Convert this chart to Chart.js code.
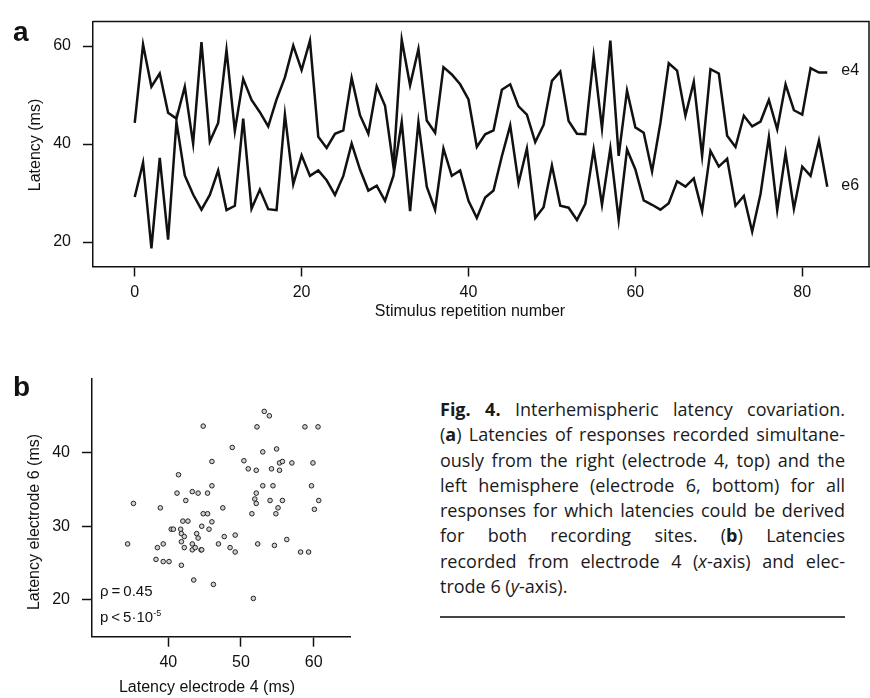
<!DOCTYPE html>
<html>
<head>
<meta charset="utf-8">
<script src="https://cdn.jsdelivr.net/npm/chart.js@4.4.0/dist/chart.umd.min.js"></script>
<style>
html,body{margin:0;padding:0;background:#fff;}
body{width:870px;height:698px;position:relative;overflow:hidden;font-family:"Liberation Sans",Arial,sans-serif;color:#111;}
canvas{position:absolute;}
#ca{left:0;top:0;}
#cb{left:0;top:340px;}
.panel{position:absolute;font-weight:bold;font-size:28px;line-height:1;left:13px;}
#caption{position:absolute;left:440px;top:397px;width:405px;font-family:"Open Sans","Noto Sans",sans-serif;font-size:18px;line-height:25.3px;color:#1a1a1a;}
#caption div{text-align:justify;text-align-last:justify;}
#caption div.last{text-align-last:left;}
#rule{position:absolute;left:440px;top:616px;width:405px;height:2px;background:#444;}
.stat{position:absolute;left:100px;font-size:15px;line-height:1;color:#111;}
.stat sup{font-size:9px;vertical-align:6px;}
</style>
</head>
<body>
<canvas id="ca" width="870" height="330"></canvas>
<canvas id="cb" width="360" height="358"></canvas>
<div class="panel" style="top:18px;">a</div>
<div class="panel" style="top:373px;">b</div>
<div class="stat" style="top:583px;">ρ&#8201;=&#8201;0.45</div>
<div class="stat" style="top:609px;">p&#8201;&lt;&#8201;5·10<sup>-5</sup></div>
<div id="caption">
<div><b>Fig. 4.</b> Interhemispheric latency covariation.</div>
<div>(<b>a</b>) Latencies of responses recorded simultane-</div>
<div>ously from the right (electrode 4, top) and the</div>
<div>left hemisphere (electrode 6, bottom) for all</div>
<div>responses for which latencies could be derived</div>
<div>for both recording sites. (<b>b</b>) Latencies</div>
<div>recorded from electrode 4 (<i>x</i>-axis) and elec-</div>
<div class="last">trode 6 (<i>y</i>-axis).</div>
</div>
<div id="rule"></div>
<script>
// ---- Panel a data ----
const repetitions = [0,1,2,3,4,5,6,7,8,9,10,11,12,13,14,15,16,17,18,19,20,21,22,23,24,25,26,27,28,29,30,31,32,33,34,35,36,37,38,39,40,41,42,43,44,45,46,47,48,49,50,51,52,53,54,55,56,57,58,59,60,61,62,63,64,65,66,67,68,69,70,71,72,73,74,75,76,77,78,79,80,81,82,83];
const latencyE4 = [44.3,60.3,51.7,54.4,46.4,45.2,51.7,40.1,60.8,40.5,44.3,59.2,42.7,53.3,49.0,46.5,43.6,49.1,53.6,60.1,55.1,61.1,41.5,39.2,42.1,42.8,53.5,45.9,42.1,51.8,47.8,35.5,61.3,52.0,59.4,44.8,42.3,55.7,54.2,52.2,49.1,39.4,42.0,42.8,51.1,52.2,47.7,46.0,40.4,43.9,52.9,54.8,44.7,42.1,42.0,57.9,43.2,61.1,37.6,50.9,43.4,42.3,34.4,44.3,56.5,55.0,45.8,52.7,37.6,55.3,54.4,41.7,39.4,45.8,43.6,44.6,49.0,43.0,52.2,46.9,46.0,55.5,54.6,54.6];
const latencyE6 = [29.2,36.2,18.7,37.2,20.5,44.5,33.6,29.7,26.6,29.6,34.6,26.5,27.4,45.2,26.8,30.7,26.7,26.5,46.0,31.8,37.7,33.5,34.6,32.6,29.6,33.5,40.1,34.8,30.5,31.5,28.4,33.5,44.5,26.3,44.5,31.3,26.6,39.1,33.5,34.6,28.4,24.9,29.1,30.5,37.5,43.8,32.0,39.1,24.9,27.1,35.6,27.4,27.0,24.5,27.8,38.9,27.6,39.1,24.5,38.9,34.8,28.5,27.6,26.6,27.9,32.4,31.3,33.0,26.3,38.6,35.4,37.0,27.4,29.4,22.1,29.8,41.4,26.5,38.1,26.8,35.4,33.5,40.7,31.3];
const seriesNames = ['e4','e6'];
const xTicksA = [0,20,40,60,80];
const yTicksA = [20,40,60];

// ---- Panel b data ----
const scatterE4 = [34.4,35.2,38.3,38.5,38.9,39.3,39.3,40.1,40.4,40.7,41.2,41.4,41.7,41.8,41.8,41.8,42.0,42.2,42.2,42.4,42.7,43.3,43.3,43.3,43.5,43.7,43.9,44.1,44.1,44.5,44.6,44.6,44.8,44.8,45.4,45.4,45.6,46.0,46.0,46.0,46.2,46.9,47.5,47.7,48.5,48.8,49.2,49.2,50.4,51.0,51.5,51.7,51.9,52.1,52.1,52.1,52.2,52.3,53.0,53.0,53.2,53.9,54.0,54.2,54.4,54.6,54.8,54.9,55.1,55.3,55.3,55.7,55.7,56.3,57.0,58.2,58.8,59.3,59.7,59.9,60.1,60.6,60.7];
const scatterE6 = [27.6,33.1,25.5,27.1,32.5,25.2,27.6,25.2,29.6,29.6,34.5,37.0,29.6,29.0,27.9,24.7,30.7,28.6,27.1,33.5,30.7,34.7,27.6,26.8,22.7,27.1,29.0,28.4,34.5,26.8,30.0,26.8,43.6,31.7,31.7,34.5,29.6,38.8,35.5,30.6,22.1,27.6,32.5,28.6,27.1,40.7,28.8,26.5,38.9,37.8,31.7,20.2,33.7,33.1,34.5,37.6,43.5,27.6,40.1,35.5,45.6,45.0,33.5,37.8,35.5,27.4,31.7,40.5,32.5,37.6,38.6,38.8,33.5,28.2,38.6,26.5,43.5,26.5,35.5,38.6,32.3,43.5,33.5];
const xTicksB = [40,50,60];
const yTicksB = [20,30,40];

const FONT = 'Liberation Sans';
const INK = '#111';

const textPlugin = {
  id: 'textLabels',
  afterDraw(chart, args, opts) {
    const ctx = chart.ctx;
    (opts.items || []).forEach(it => {
      ctx.save();
      ctx.font = it.font;
      ctx.fillStyle = INK;
      ctx.textAlign = 'center';
      ctx.textBaseline = 'middle';
      ctx.translate(it.x, it.y);
      if (it.rotate) ctx.rotate(it.rotate);
      ctx.fillText(it.text, 0, 0);
      ctx.restore();
    });
  }
};

const framePlugin = {
  id: 'frameBox',
  afterDraw(chart, args, opts) {
    if (!opts.enabled) return;
    const {ctx, chartArea: a} = chart;
    ctx.save();
    ctx.strokeStyle = INK;
    ctx.lineWidth = 1.5;
    ctx.beginPath();
    ctx.moveTo(a.left, a.top);
    ctx.lineTo(a.right, a.top);
    ctx.lineTo(a.right, a.bottom);
    ctx.stroke();
    if (opts.seriesLabels) {
      ctx.font = '16px ' + FONT;
      ctx.fillStyle = INK;
      ctx.textAlign = 'left';
      ctx.textBaseline = 'middle';
      chart.data.datasets.forEach((ds, i) => {
        const meta = chart.getDatasetMeta(i);
        const p = meta.data[meta.data.length - 1];
        ctx.fillText(ds.label, p.x + 14, p.y - 1.5);
      });
    }
    ctx.restore();
  }
};

function axisCommon(ticksArr, padding) {
  return {
    afterBuildTicks: s => { s.ticks = ticksArr.map(v => ({value: v})); },
    grid: {drawOnChartArea: false, drawTicks: true, tickLength: 10, tickColor: INK, tickWidth: 1.5},
    border: {display: true, color: INK, width: 1.5},
    ticks: {padding: padding, color: INK, font: {family: FONT, size: 16}, maxRotation: 0, autoSkip: false}
  };
}

new Chart(document.getElementById('ca'), {
  type: 'line',
  data: {
    datasets: [latencyE4, latencyE6].map((arr, k) => ({
      label: seriesNames[k],
      data: arr.map((v, i) => ({x: repetitions[i], y: v})),
      borderColor: INK,
      borderWidth: 2.5,
      pointRadius: 0,
      tension: 0,
      fill: false
    }))
  },
  options: {
    responsive: false,
    animation: false,
    layout: {padding: {left: 0, top: 9, right: 1, bottom: 0}},
    plugins: {
      legend: {display: false},
      tooltip: {enabled: false},
      frameBox: {enabled: true, seriesLabels: true},
      textLabels: {items: [
        {text: 'Latency (ms)', x: 36, y: 145, rotate: -Math.PI / 2, font: '16px ' + FONT},
        {text: 'Stimulus repetition number', x: 470, y: 312, font: '16px ' + FONT}
      ]}
    },
    scales: {
      x: Object.assign({type: 'linear', min: -5, max: 88, afterFit: s => { s.height = 63.5; }}, axisCommon(xTicksA, 6)),
      y: Object.assign({type: 'linear', min: 15, max: 65, afterFit: s => { s.width = 93; }}, axisCommon(yTicksA, 12))
    }
  },
  plugins: [textPlugin, framePlugin]
});

new Chart(document.getElementById('cb'), {
  type: 'scatter',
  data: {
    datasets: [{
      label: 'e4 vs e6',
      data: scatterE4.map((v, i) => ({x: v, y: scatterE6[i]})),
      pointRadius: 2.3,
      borderWidth: 1,
      borderColor: '#222',
      backgroundColor: '#d0d0d0'
    }]
  },
  options: {
    responsive: false,
    animation: false,
    layout: {padding: {left: 0, top: 39, right: 10, bottom: 0}},
    plugins: {
      legend: {display: false},
      tooltip: {enabled: false},
      frameBox: {enabled: false},
      textLabels: {items: [
        {text: 'Latency electrode 6 (ms)', x: 35, y: 182, rotate: -Math.PI / 2, font: '16px ' + FONT},
        {text: 'Latency electrode 4 (ms)', x: 207, y: 348, font: '16px ' + FONT}
      ]}
    },
    scales: {
      x: Object.assign({type: 'linear', min: 29.5, max: 65, afterFit: s => { s.height = 61.3; }}, axisCommon(xTicksB, 6)),
      y: Object.assign({type: 'linear', min: 15, max: 50, afterFit: s => { s.width = 92; }}, axisCommon(yTicksB, 12))
    }
  },
  plugins: [textPlugin, framePlugin]
});
</script>
</body>
</html>
